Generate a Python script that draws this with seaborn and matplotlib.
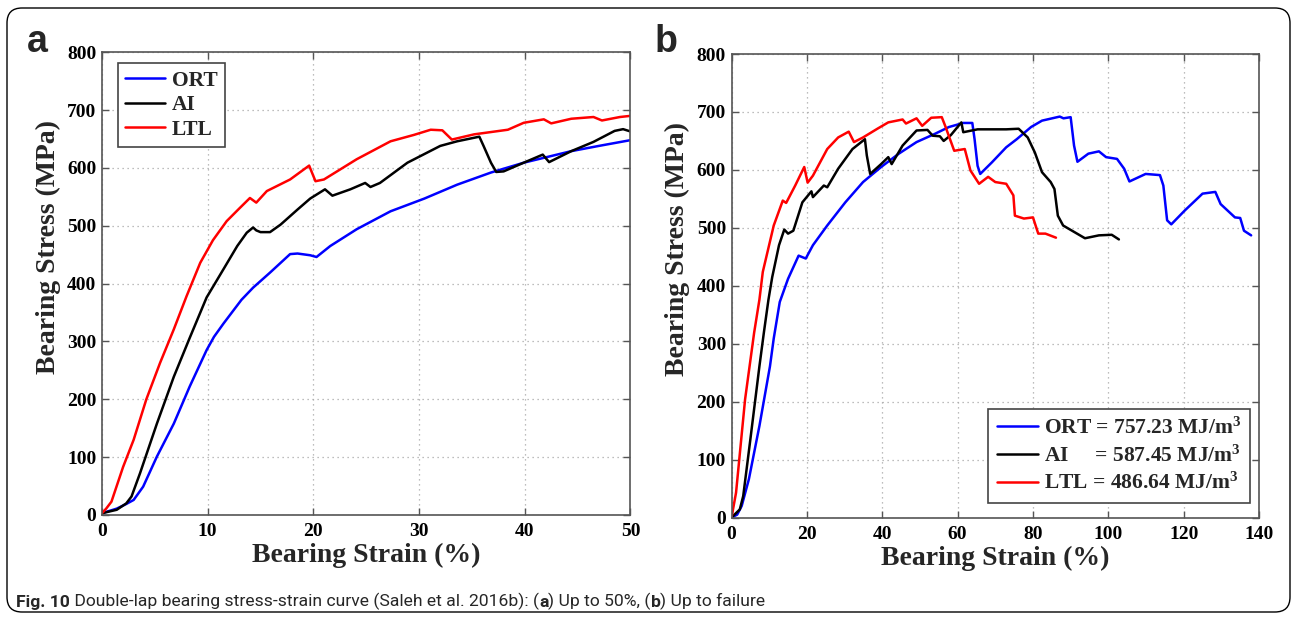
import numpy as np
import pandas as pd
import matplotlib.pyplot as plt
import seaborn as sns
from matplotlib.patches import FancyBboxPatch

# ---- panel a : up to 50 % strain ----
ort_a_strain = [0, 1.4, 2.3, 3.0, 3.9, 5.2, 6.8, 8.3, 9.9, 10.6, 11.5, 13.2, 14.3, 15.9, 17.8, 18.5,
                19.7, 20.3, 21.6, 24.1, 27.3, 30.5, 33.6, 36.8, 39.9, 44.4, 47.0, 50.0]
ort_a_stress = [3, 11, 19, 26, 49, 101, 158, 222, 285, 308, 331, 372, 393, 419, 451, 452,
                449, 446, 465, 494, 525, 547, 571, 592, 609, 629, 638, 648]

ai_a_strain = [0, 1.4, 2.3, 2.8, 3.6, 5.2, 6.8, 8.3, 9.9, 11.5, 12.8, 13.7, 14.3, 14.6, 15.0, 15.9,
               16.9, 18.5, 19.7, 21.1, 21.8, 23.5, 24.9, 25.4, 26.3, 28.9, 32.0, 33.6, 35.7, 36.1,
               36.8, 37.3, 38.0, 39.9, 41.7, 42.3, 44.4, 46.5, 48.5, 49.3, 50.0]
ai_a_stress = [3, 9, 20, 32, 72, 158, 239, 306, 376, 425, 465, 488, 497, 492, 489, 489,
               502, 528, 547, 563, 552, 563, 574, 567, 574, 609, 638, 646, 654, 638,
               609, 593, 594, 609, 623, 610, 629, 645, 664, 667, 663]

ltl_a_strain = [0, 0.4, 0.9, 2.0, 3.0, 4.2, 5.5, 6.8, 8.0, 9.3, 10.5, 11.8, 13.0, 14.0, 14.6, 15.6,
                17.8, 19.6, 20.2, 21.0, 24.1, 27.3, 29.5, 31.1, 32.2, 33.1, 35.2, 38.4, 39.9, 41.8,
                42.5, 44.4, 46.5, 47.3, 49.0, 50.0]
ltl_a_stress = [3, 11, 23, 83, 130, 200, 263, 321, 378, 436, 475, 508, 530, 548, 540, 560,
                580, 604, 577, 580, 615, 646, 657, 666, 665, 649, 658, 666, 678, 684,
                677, 685, 688, 682, 688, 690]

# ---- panel b : up to failure ----
ort_b_strain = [0, 1.5, 2.7, 4.6, 7.4, 10.2, 11.2, 12.8, 15.0, 17.8, 19.7, 21.6, 25.4, 30.2, 34.9,
                39.7, 44.4, 49.1, 53.9, 57.7, 61.5, 63.9, 64.5, 65.3, 66.0, 69.1, 72.9, 75.7, 79.5,
                82.4, 87.1, 88.1, 90.0, 90.9, 91.8, 94.7, 97.5, 99.4, 102.3, 104.2, 105.6, 109.9,
                113.7, 114.6, 115.6, 116.7, 120.3, 125.0, 128.4, 129.8, 133.6, 135.0, 136.0, 137.9]
ort_b_stress = [0, 5, 20, 66, 158, 261, 309, 372, 412, 452, 447, 470, 504, 544, 579,
                605, 628, 648, 662, 674, 681, 681, 653, 607, 593, 613, 639, 653, 674,
                685, 692, 689, 691, 642, 614, 628, 632, 622, 619, 602, 580, 593,
                591, 573, 513, 506, 530, 559, 562, 541, 518, 517, 495, 487]

ai_b_strain = [0, 2.2, 3.1, 5.0, 7.4, 8.6, 9.8, 10.8, 12.6, 14.0, 15.0, 16.4, 18.8, 21.2, 21.6, 24.5,
               25.4, 28.3, 32.1, 35.4, 35.9, 36.8, 39.7, 41.6, 42.5, 45.4, 49.1, 52.0, 53.4, 55.3,
               56.3, 58.2, 61.0, 61.5, 65.3, 72.9, 76.2, 78.6, 80.5, 82.4, 84.7, 85.7, 86.6, 88.0,
               90.9, 93.8, 97.5, 100.9, 102.8]
ai_b_stress = [0, 14, 37, 135, 261, 320, 376, 415, 470, 497, 490, 495, 544, 563, 553, 573,
               570, 602, 636, 653, 625, 593, 610, 622, 610, 642, 668, 669, 659, 658,
               650, 660, 682, 665, 670, 670, 671, 656, 630, 596, 579, 567, 521, 504,
               493, 482, 487, 488, 480]

ltl_b_strain = [0, 1.2, 3.6, 6.0, 7.4, 8.3, 11.2, 13.6, 14.5, 16.9, 19.3, 20.2, 21.6, 25.4, 28.3,
                31.1, 32.5, 34.9, 38.7, 41.6, 45.4, 46.3, 49.1, 50.6, 53.0, 55.8, 56.7, 59.1, 61.9,
                63.4, 65.7, 68.1, 70.0, 72.9, 74.8, 75.2, 77.6, 80.0, 81.4, 83.3, 86.1]
ltl_b_stress = [0, 43, 204, 319, 376, 424, 504, 547, 543, 573, 605, 578, 590, 636, 656,
                666, 648, 656, 671, 682, 687, 680, 689, 676, 690, 691, 676, 633, 636,
                599, 576, 588, 579, 576, 556, 521, 516, 518, 490, 490, 483]

names = ["ORT", "AI", "LTL"]
colors = ["#0000ff", "#000000", "#ff0000"]
labels_b = ["ORT = 757.23 MJ/m$^3$", "AI     = 587.45 MJ/m$^3$", "LTL = 486.64 MJ/m$^3$"]

sns.set_theme(style="white")
plt.rcParams["font.family"] = ["Liberation Serif", "DejaVu Serif"]
plt.rcParams["font.weight"] = "bold"
plt.rcParams["mathtext.default"] = "regular"

fig = plt.figure(figsize=(12.92, 6.18), dpi=100)
ax_a = fig.add_axes([0.0789, 0.1667, 0.4091, 0.7488])
ax_b = fig.add_axes([0.5662, 0.1626, 0.4083, 0.7500])

panels = [
    (ax_a, [(ort_a_strain, ort_a_stress), (ai_a_strain, ai_a_stress), (ltl_a_strain, ltl_a_stress)],
     names, (0, 50), np.arange(0, 51, 10)),
    (ax_b, [(ort_b_strain, ort_b_stress), (ai_b_strain, ai_b_stress), (ltl_b_strain, ltl_b_stress)],
     labels_b, (0, 140), np.arange(0, 141, 20)),
]

for ax, series, labs, xlim, xt in panels:
    for (sx, sy), c, lab in zip(series, colors, labs):
        df = pd.DataFrame({"strain": sx, "stress": sy})
        sns.lineplot(data=df, x="strain", y="stress", color=c, lw=1.8, label=lab,
                     sort=False, estimator=None, ax=ax)
    ax.set_xlim(*xlim)
    ax.set_ylim(0, 800)
    ax.set_xticks(xt)
    ax.set_yticks(np.arange(0, 801, 100))
    ax.grid(True, linestyle=(0, (1, 3)), color="#a8a8a8", linewidth=0.9)
    ax.tick_params(direction="in", length=5, width=1, color="#555555", labelsize=14,
                   top=True, right=True, bottom=True, left=True, labelcolor="black")
    ax.tick_params(axis="x", pad=6)
    ax.tick_params(axis="y", pad=4)
    for s in ax.spines.values():
        s.set_color("#555555")
        s.set_linewidth(1.2)
    ax.set_xlabel("Bearing Strain (%)", fontsize=20, fontweight="bold", labelpad=2)
    ax.set_ylabel("Bearing Stress (MPa)", fontsize=20, fontweight="bold")
    ax.yaxis.set_label_coords(-0.078, 0.58)

leg_a = ax_a.legend(loc="upper left", bbox_to_anchor=(0.03, 0.976), borderaxespad=0,
                    fancybox=False, framealpha=1, edgecolor="#444444",
                    prop={"weight": "bold", "size": 15.5}, handlelength=1.85,
                    handletextpad=0.3, labelspacing=0.2, borderpad=0.35)
leg_a.get_frame().set_linewidth(1.2)

leg_b = ax_b.legend(loc="lower right", bbox_to_anchor=(0.983, 0.032), borderaxespad=0,
                    fancybox=False, framealpha=1, edgecolor="#444444",
                    prop={"weight": "bold", "size": 15.5}, handlelength=1.9,
                    handletextpad=0.3, labelspacing=0.3, borderpad=0.4)
leg_b.get_frame().set_linewidth(1.2)

# panel letters
fig.text(27 / 1292, 1 - 52 / 618, "a", fontsize=27, fontweight="bold",
         family=["Liberation Sans", "DejaVu Sans"], va="baseline")
fig.text(655 / 1292, 1 - 52 / 618, "b", fontsize=27, fontweight="bold",
         family=["Liberation Sans", "DejaVu Sans"], va="baseline")

# caption, pieces chained one after another
cap_font = ["Roboto", "DejaVu Sans"]
pieces = [("Fig. 10", "bold"),
          (" Double-lap bearing stress-strain curve (Saleh et al. 2016b): (", "normal"),
          ("a", "bold"), (") Up to 50%, (", "normal"), ("b", "bold"), (") Up to failure", "normal")]
prev = fig.text(16 / 1292, 1 - 610 / 618, pieces[0][0], fontsize=12.6, fontweight=pieces[0][1],
                family=cap_font, va="bottom", ha="left")
for txt, w in pieces[1:]:
    prev = fig.axes[0].annotate(txt, xy=(1, 0), xycoords=prev, va="bottom", ha="left",
                                fontsize=12.6, fontweight=w, family=cap_font,
                                annotation_clip=False)

# rounded frame round the whole figure
frame = FancyBboxPatch((0.07, 0.06), 12.83, 6.04, boxstyle="round,pad=0,rounding_size=0.15",
                       transform=fig.dpi_scale_trans, fill=False, ec="black", lw=1.0)
fig.add_artist(frame)

fig.savefig("out.png", dpi=100)
